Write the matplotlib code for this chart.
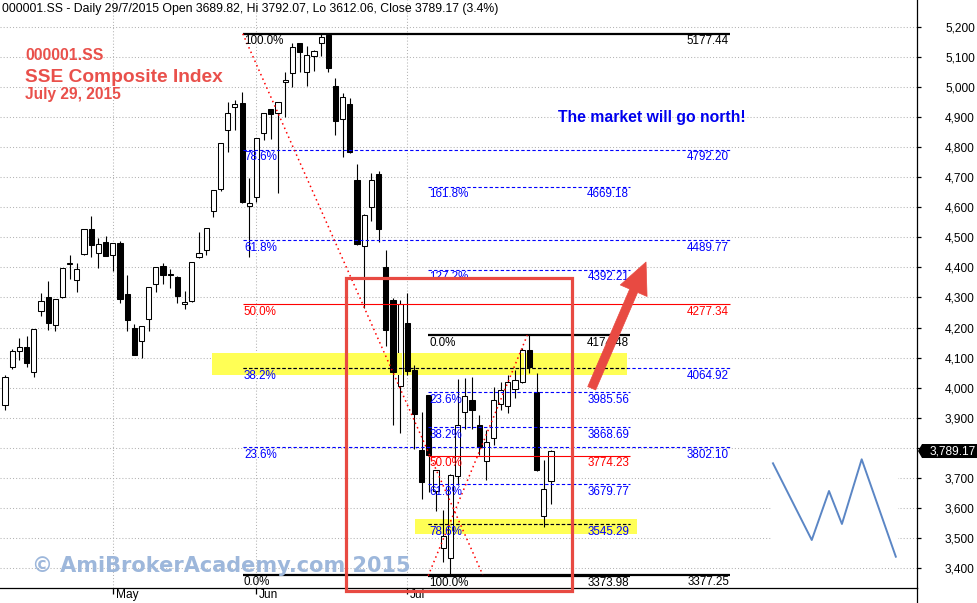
import matplotlib
matplotlib.use("Agg")
import matplotlib.pyplot as plt
import matplotlib.transforms as mtransforms
from matplotlib.patches import Rectangle, FancyArrowPatch, Polygon
from matplotlib.lines import Line2D
from matplotlib.ticker import FuncFormatter
import numpy as np

plt.rcParams['font.family'] = ['Liberation Sans', 'DejaVu Sans']

# ---------------- data ----------------
opens = [3942, 4069, 4123, 4134, 4053, 4254, 4301, 4210, 4302, 4412,
         4357, 4444, 4527, 4447, 4484, 4441, 4481, 4312, 4199, 4154,
         4230, 4344, 4405, 4378, 4368, 4278, 4288, 4434, 4457, 4587,
         4660, 4857, 4933, 4946, 4605, 4634, 4846, 4926, 4913, 5016,
         5046, 5146, 5049, 5104, 5146, 5174, 5004, 4893, 4943, 4690,
         4472, 4602, 4711, 4400, 4290, 4007, 4214, 4059, 3793, 3975,
         3655, 3467, 3432, 3706, 3918, 3959, 3876, 3757, 3832, 3946,
         3939, 3995, 4020, 4125, 3986, 3573, 3689.82]
highs = [4042, 4128, 4165, 4172, 4194, 4314, 4355, 4294, 4397, 4442,
         4414, 4528, 4571, 4498, 4505, 4481, 4487, 4375, 4212, 4205,
         4335, 4401, 4415, 4395, 4370, 4322, 4418, 4518, 4532, 4658,
         4815, 4951, 4957, 4985, 4697, 4830, 4913, 4927, 4950, 5049,
         5146, 5147, 5137, 5124, 5177, 5177, 5030, 4981, 4965, 4744,
         4577, 4713, 4720, 4457, 4297, 4290, 4314, 4076, 3920, 3975,
         3727, 3593, 3712, 4029, 4031, 4034, 3909, 3859, 4003, 4020,
         4042, 4060, 4132, 4174.48, 4048, 3760, 3792.07]
lows = [3926, 4061, 4092, 4070, 4035, 4239, 4192, 4190, 4299, 4362,
        4318, 4442, 4436, 4399, 4439, 4389, 4283, 4190, 4110, 4100,
        4190, 4319, 4346, 4333, 4280, 4263, 4286, 4432, 4441, 4567,
        4655, 4784, 4857, 4615, 4434, 4619, 4824, 4826, 4649, 4902,
        5001, 5051, 5005, 5054, 5104, 5049, 4842, 4768, 4780, 4476,
        4265, 4555, 4484, 4140, 3875, 3850, 4043, 3795, 3630, 3653,
        3588, 3421, 3374, 3676, 3862, 3863, 3776, 3693, 3809, 3926,
        3915, 3965, 4015, 4048, 3724, 3537, 3612.06]
closes = [4036, 4122, 4135, 4083, 4194, 4288, 4216, 4294, 4397, 4415,
          4394, 4527, 4476, 4477, 4439, 4480, 4296, 4226, 4110, 4204,
          4334, 4400, 4376, 4375, 4306, 4285, 4417, 4448, 4531, 4657,
          4813, 4913, 4943, 4619, 4615, 4829, 4913, 4910, 4949, 5024,
          5132, 5116, 5106, 5121, 5166, 5063, 4887, 4968, 4785, 4478,
          4576, 4690, 4527, 4193, 4053, 4277, 4054, 3911, 3687, 3776,
          3727, 3507, 3709, 3876, 3972, 3924, 3804, 3820, 3959, 3992,
          4020, 4026, 4124, 4070, 3725, 3662, 3789.17]

month_labels = ['May', 'Jun', 'Jul']
month_start_bar = [15, 35, 56]
price_ticks = list(range(3400, 5201, 100))

big_fib_levels = [5177.44, 4792.20, 4489.77, 4277.34, 4064.92, 3802.10, 3377.25]
big_fib_labels = ['100.0%', '78.6%', '61.8%', '50.0%', '38.2%', '23.6%', '0.0%']
big_fib_span = (33.1, 100.9)
big_trend_x = [33.1, 66.5]
big_trend_y = [5177.44, 3377.25]

small_fib_levels = [4669.18, 4392.21, 4174.48, 3985.56, 3868.69, 3774.23,
                    3679.77, 3545.29, 3373.98]
small_fib_labels = ['161.8%', '127.2%', '0.0%', '23.6%', '38.2%', '50.0%',
                    '61.8%', '78.6%', '100.0%']
small_fib_span = (58.9, 87.0)
small_trend_x = [58.9, 72.7]
small_trend_y = [3373.98, 4174.48]

highlight_x = [(28.8, 86.6), (57.1, 88.0)]
highlight_y = [(4042.0, 4115.0), (3513.0, 3563.0)]
focus_box_x = (47.5, 78.9)
focus_box_y = (3323.0, 4365.0)
arrow_from = (81.67, 3998.0)
arrow_to = (89.23, 4418.0)
zigzag_x = [106.9, 112.3, 114.7, 116.5, 119.25, 124.0]
zigzag_y = [3748.3, 3493.1, 3656.2, 3546.4, 3761.6, 3437.6]
zigzag_bg_x = (106.6, 124.3)
zigzag_bg_y = (3406.0, 3792.0)

x_range = (-0.70, 126.95)
y_range = (3333.4, 5289.8)

# ---------------- figure ----------------
W, H = 977, 603
fig = plt.figure(figsize=(W / 100, H / 100), dpi=100)
fig.patch.set_facecolor('white')
ax = fig.add_axes([0, 15 / H, 917 / W, 588 / H])
ax.set_xlim(*x_range)
ax.set_ylim(*y_range)

for s in ['left', 'top']:
    ax.spines[s].set_visible(False)
for s in ['right', 'bottom']:
    ax.spines[s].set_color('black')
    ax.spines[s].set_linewidth(0.9)
fig.add_artist(Line2D([917 / W, 917 / W], [0, 15 / H], transform=fig.transFigure,
                      color='black', lw=0.9))

# grid
ax.set_yticks(price_ticks)
ax.yaxis.set_major_formatter(FuncFormatter(lambda v, p: f'{v:,.0f}'))
ax.set_xticks(month_start_bar)
ax.set_xticklabels(month_labels)
ax.grid(True, color='#b4b4b4', linestyle=(0, (1, 2)), lw=0.75)
ax.set_axisbelow(True)

ax.yaxis.tick_right()
ax.tick_params(axis='y', direction='out', length=3, width=0.9, pad=38.6,
               labelsize=8.6, colors='black')
for t, v in zip(ax.get_yticklabels(), price_ticks):
    t.set_ha('right')
    if abs(v - closes[-1]) < 40:      # hidden behind the last-price tag
        t.set_visible(False)
ax.tick_params(axis='x', direction='out', length=4, width=0.9, pad=-3.5,
               labelsize=8.6)
off = mtransforms.ScaledTranslation(2 / 72, 0, fig.dpi_scale_trans)
for t in ax.get_xticklabels():
    t.set_ha('left')
    t.set_transform(t.get_transform() + off)

# highlight (yellow) zones
YEL = '#FFFF55'
for (hx0, hx1), (hy0, hy1) in zip(highlight_x, highlight_y):
    ax.add_patch(Rectangle((hx0, hy0), hx1 - hx0, hy1 - hy0, fc=YEL, ec='none', zorder=1.5))

# white backdrop of the pasted zigzag sketch
ax.add_patch(Rectangle((zigzag_bg_x[0], zigzag_bg_y[0]), zigzag_bg_x[1] - zigzag_bg_x[0],
                       zigzag_bg_y[1] - zigzag_bg_y[0], fc='white', ec='none', zorder=1.2))

# candles
body_w = 0.72
for i in range(len(opens)):
    o, h, l, c = opens[i], highs[i], lows[i], closes[i]
    ax.plot([i, i], [l, h], color='black', lw=0.8, solid_capstyle='butt', zorder=4)
    lo, hi = min(o, c), max(o, c)
    hgt = max(hi - lo, 3.3)
    fc = 'black' if c < o else 'white'
    ax.add_patch(Rectangle((i - body_w / 2, lo), body_w, hgt, fc=fc, ec='black',
                           lw=0.75, zorder=5))
    if c >= o:
        for (hx0, hx1), (hy0, hy1) in zip(highlight_x, highlight_y):
            if hx0 <= i <= hx1:
                a, b = max(lo, hy0), min(lo + hgt, hy1)
                if b > a:
                    ax.add_patch(Rectangle((i - body_w / 2 + 0.12, a), body_w - 0.24, b - a,
                                           fc=YEL, ec='none', zorder=5.5))


# fibonacci levels
def fib_style(lbl):
    if lbl in ('0.0%', '100.0%'):
        return dict(color='black', lw=1.6, ls='-')
    if lbl == '50.0%':
        return dict(color='red', lw=0.8, ls='-')
    return dict(color='#0000FF', lw=0.8, ls=(0, (3, 2)))


def draw_fib(levels, labels, span):
    x0, x1 = span
    for lvl, lbl in zip(levels, labels):
        st = fib_style(lbl)
        ax.plot([x0, x1], [lvl, lvl], zorder=6, solid_capstyle='butt', **st)
        if st['color'] == '#0000FF':
            for (hx0, hx1), (hy0, hy1) in zip(highlight_x, highlight_y):
                if hy0 <= lvl <= hy1:
                    a, b = max(x0, hx0), min(x1, hx1)
                    if b > a:
                        ax.plot([a, b], [lvl, lvl], color='black', lw=0.8,
                                ls=(0, (3, 2)), zorder=6.5)
        ax.annotate(lbl, xy=(x0, lvl), xytext=(0.8, -1.2), textcoords='offset points',
                    ha='left', va='top', fontsize=8.4, color=st['color'], zorder=7)
        ax.annotate(f'{lvl:.2f}', xy=(x1, lvl), xytext=(-0.6, -1.2),
                    textcoords='offset points', ha='right', va='top', fontsize=8.4,
                    color=st['color'], zorder=7)


draw_fib(big_fib_levels, big_fib_labels, big_fib_span)
draw_fib(small_fib_levels, small_fib_labels, small_fib_span)

ax.plot(big_trend_x, big_trend_y, color='red', lw=1.1, ls=(0, (1, 2.2)), zorder=6)
ax.plot(small_trend_x, small_trend_y, color='red', lw=1.1, ls=(0, (1, 2.2)), zorder=6)

# zigzag sketch
ax.plot(zigzag_x, zigzag_y, color='#5B86C5', lw=1.4, zorder=6)

# red focus box
RED = '#E84A42'
ax.add_patch(Rectangle((focus_box_x[0], focus_box_y[0]), focus_box_x[1] - focus_box_x[0],
                       focus_box_y[1] - focus_box_y[0], fc='none', ec=RED, lw=2.3,
                       zorder=9, clip_on=False))

# arrow
arr = FancyArrowPatch(arrow_from, arrow_to,
                      arrowstyle='simple,head_width=2.1,head_length=2.25,tail_width=0.62',
                      mutation_scale=10, fc=RED, ec=RED, lw=0.5, shrinkA=0, shrinkB=0,
                      zorder=10)
ax.add_patch(arr)

# current price tag (black pointed box on the price axis)
px, py = ax.transData.transform((x_range[1], closes[-1]))
tag = Polygon([(px + 1, py), (px + 5, py + 7), (px + 60, py + 7), (px + 60, py - 7),
               (px + 5, py - 7)], closed=True, transform=mtransforms.IdentityTransform(),
              fc='black', ec='none', zorder=5)
fig.add_artist(tag)
fig.text(px + 58.5, py, f'{closes[-1]:,.2f}', transform=mtransforms.IdentityTransform(),
         ha='right', va='center', fontsize=8.6, color='white', zorder=6)

# texts
fig.text(2 / W, 1 - 11.7 / H,
         '000001.SS - Daily 29/7/2015 Open 3689.82, Hi 3792.07, Lo 3612.06, Close 3789.17 (3.4%)',
         fontsize=8.8, va='baseline', ha='left', color='black')
TRED = '#E9504B'
fig.text(25 / W, 1 - 60 / H, '000001.SS', fontsize=11.4, fontweight='bold',
         color=TRED, va='baseline')
fig.text(25 / W, 1 - 81.7 / H, 'SSE Composite Index', fontsize=13.8, fontweight='bold',
         color=TRED, va='baseline')
fig.text(25 / W, 1 - 99.5 / H, 'July 29, 2015', fontsize=11.2, fontweight='bold',
         color=TRED, va='baseline')
fig.text(558 / W, 1 - 122 / H, 'The market will go north!', fontsize=11.3,
         fontweight='bold', color='#0000EE', va='baseline')
fig.text(32 / W, 1 - 572 / H, '\u00a9 AmiBrokerAcademy.com 2015', fontsize=15,
         fontweight='bold', color='#9DB7DB', va='baseline', family='DejaVu Sans',
         zorder=8)

fig.savefig('out.png', dpi=100)
